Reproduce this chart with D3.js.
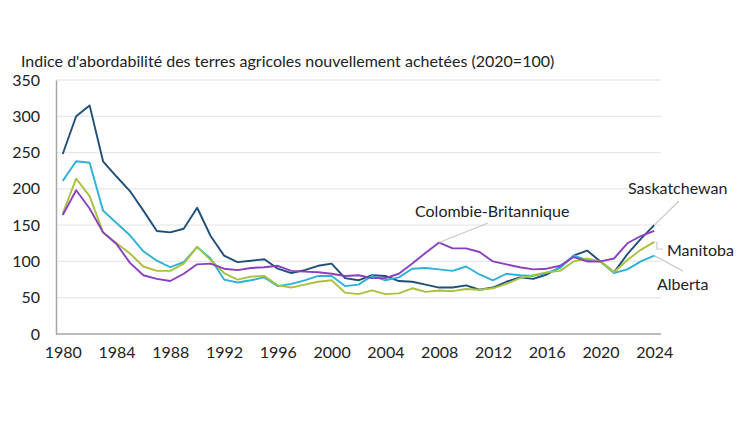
<!DOCTYPE html>
<html>
<head>
<meta charset="utf-8">
<script src="https://cdn.jsdelivr.net/npm/d3@7"></script>
<style>
  html, body { margin: 0; padding: 0; background: #ffffff; }
  svg { display: block; font-family: Lato, "Open Sans", sans-serif; }
</style>
</head>
<body>
<svg id="chart" width="750" height="422"></svg>
<script>
const years = d3.range(1980, 2025);
const xTickLabels = [1980, 1984, 1988, 1992, 1996, 2000, 2004, 2008, 2012, 2016, 2020, 2024];
const yTicks = [0, 50, 100, 150, 200, 250, 300, 350];

const saskatchewan = [248, 300, 315, 238, 217, 197, 170, 142, 140, 145, 174, 135, 108, 99, 101, 103, 90, 84, 88, 94, 97, 77, 74, 81, 80, 73, 72, 68, 64, 64, 67, 61, 64, 72, 78, 76, 82, 92, 108, 115, 100, 85, 110, 131, 150];
const alberta = [211, 238, 236, 170, 153, 136, 114, 101, 92, 99, 120, 104, 75, 71, 74, 78, 66, 69, 74, 80, 80, 66, 68, 80, 74, 78, 90, 91, 89, 87, 93, 82, 74, 83, 81, 80, 84, 91, 108, 102, 100, 84, 89, 100, 108];
const manitoba = [166, 214, 190, 140, 125, 111, 93, 87, 87, 97, 120, 102, 84, 75, 79, 80, 67, 64, 68, 72, 74, 57, 55, 60, 55, 56, 63, 58, 60, 59, 62, 61, 63, 69, 77, 81, 85, 87, 100, 104, 100, 85, 102, 116, 127];
const colombieBritannique = [164, 198, 173, 140, 124, 98, 81, 76, 73, 83, 96, 97, 90, 88, 91, 92, 94, 87, 86, 85, 83, 80, 81, 77, 77, 83, 97, 112, 126, 118, 118, 113, 100, 96, 92, 89, 90, 94, 106, 100, 100, 104, 125, 135, 142];

const seriesNames = ["Saskatchewan", "Alberta", "Manitoba", "Colombie-Britannique"];
const seriesValues = [saskatchewan, alberta, manitoba, colombieBritannique];
const colors = ["#1f4e79", "#2db1d8", "#a8c23e", "#8a3fc0"];
const title = "Indice d'abordabilité des terres agricoles nouvellement achetées (2020=100)";

const svg = d3.select("#chart");
const plotLeft = 56, plotRight = 661, plotTop = 80, plotBottom = 334;

const x = d3.scalePoint().domain(years).range([plotLeft, plotRight]).padding(0.5);
const y = d3.scaleLinear().domain([0, 350]).range([plotBottom, plotTop]);

// gridlines
svg.append("g").selectAll("line").data(yTicks.filter(d => d > 0)).join("line")
  .attr("x1", plotLeft).attr("x2", plotRight)
  .attr("y1", d => y(d)).attr("y2", d => y(d))
  .attr("stroke", "#e8e8e8").attr("stroke-width", 1.3);

// y axis
const yAxis = svg.append("g").attr("transform", `translate(${plotLeft},0)`)
  .call(d3.axisLeft(y).tickValues(yTicks).tickSize(0).tickPadding(16));
yAxis.select(".domain").attr("stroke", "#a6a6a6").attr("stroke-width", 1.5);
yAxis.selectAll("text").attr("font-size", 16).attr("fill", "#222").attr("font-family", "Lato, sans-serif");

// x axis
const xAxis = svg.append("g").attr("transform", `translate(0,${plotBottom})`)
  .call(d3.axisBottom(x).tickValues(xTickLabels).tickSize(0).tickPadding(13));
xAxis.select(".domain").attr("stroke", "#a6a6a6").attr("stroke-width", 1.5)
  .attr("d", `M${plotLeft},0H${plotRight}`);
xAxis.selectAll("text").attr("font-size", 16).attr("fill", "#222").attr("font-family", "Lato, sans-serif");

// lines
const line = d3.line().x((d, i) => x(years[i])).y(d => y(d));
seriesValues.forEach((vals, k) => {
  svg.append("path").datum(vals)
    .attr("fill", "none").attr("stroke", colors[k]).attr("stroke-width", 1.9)
    .attr("stroke-linejoin", "round")
    .attr("d", line);
});

// title
svg.append("text").attr("x", 21).attr("y", 67).attr("font-size", 16).attr("fill", "#222")
  .text(title);

// labels and leader lines
const lastYear = 2024;
const leaderColor = "#c8c8c8";
function leader(points) {
  svg.append("path").attr("d", d3.line()(points)).attr("fill", "none")
    .attr("stroke", leaderColor).attr("stroke-width", 1.2);
}
// Saskatchewan
leader([[x(lastYear), y(saskatchewan[44])], [679, 201]]);
svg.append("text").attr("x", 628).attr("y", 194).attr("font-size", 16).attr("fill", "#222").text("Saskatchewan");
// Manitoba
leader([[x(lastYear) + 1, y(manitoba[44])], [657, y(manitoba[44]) + 1], [657, 249], [663, 249]]);
svg.append("text").attr("x", 667).attr("y", 256).attr("font-size", 16).attr("fill", "#222").text("Manitoba");
// Alberta
leader([[x(lastYear), y(alberta[44])], [683, 271]]);
svg.append("text").attr("x", 657).attr("y", 290).attr("font-size", 16).attr("fill", "#222").text("Alberta");
// Colombie-Britannique
leader([[x(2008), y(colombieBritannique[28])], [488, 223]]);
svg.append("text").attr("x", 415).attr("y", 217).attr("font-size", 16).attr("fill", "#222").text("Colombie-Britannique");
</script>
</body>
</html>
